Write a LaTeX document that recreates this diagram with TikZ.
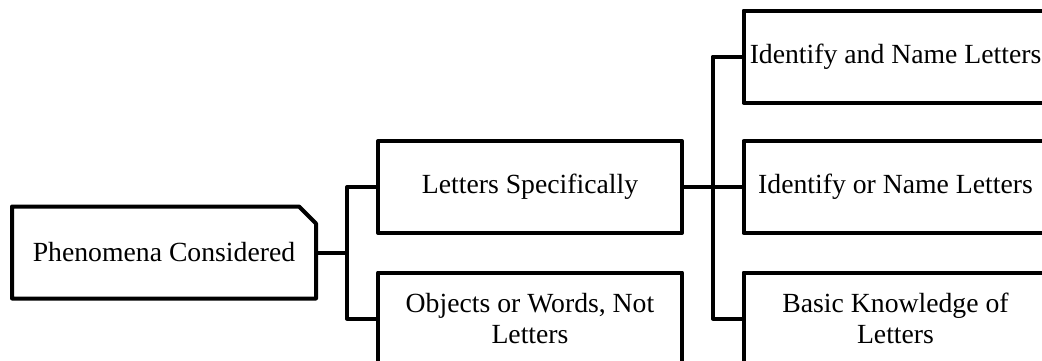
\documentclass[tikz,border=0pt]{standalone}
\usepackage{fontspec}
\setmainfont{Liberation Serif}
\usetikzlibrary{calc,shapes.misc}
\tikzset{
	box/.style={draw, line width=4pt, line join=round, minimum width=304pt,
		minimum height=92pt, inner sep=2pt, align=center,
		font=\fontsize{27.7}{31}\selectfont},
	rootbox/.style={box, chamfered rectangle, chamfered rectangle corners=north east,
		chamfered rectangle xsep=8.5pt, chamfered rectangle ysep=8.5pt},
	link/.style={line width=4pt, line join=round}
}
\begin{document}
\begin{tikzpicture}[x=1pt, y=-1pt]
		% riquadro della figura
		\useasboundingbox (0,0) rectangle (1042,360);
		\clip (0,0) rectangle (1042,360);
		% radice
		\node[rootbox] (root) at (164,252.5) {Phenomena Considered};
		% primo livello
		\node[box] (spec) at (530,187) {Letters Specifically};
		\node[box] (objw) at (530,318.5) {Objects or Words, Not\\Letters};
		% secondo livello
		\node[box] (idand) at (895.5,56.5) {Identify and Name Letters};
		\node[box] (idor) at (895.5,187) {Identify or Name Letters};
		\node[box] (basic) at (895.5,318.5) {Basic Knowledge of\\Letters};
		% connettori
		\coordinate (ja) at ($(root.east)!0.5!(root.east -| spec.west)$);
		\draw[link] (root.east) -- (ja);
		\draw[link] (spec.west) -| (ja) |- (objw.west);
		\coordinate (jb) at ($(spec.east)!0.5!(idor.west)$);
		\draw[link] (spec.east) -- (idor.west);
		\draw[link] (idand.west) -| (jb) |- (basic.west);
	\end{tikzpicture}
\end{document}
